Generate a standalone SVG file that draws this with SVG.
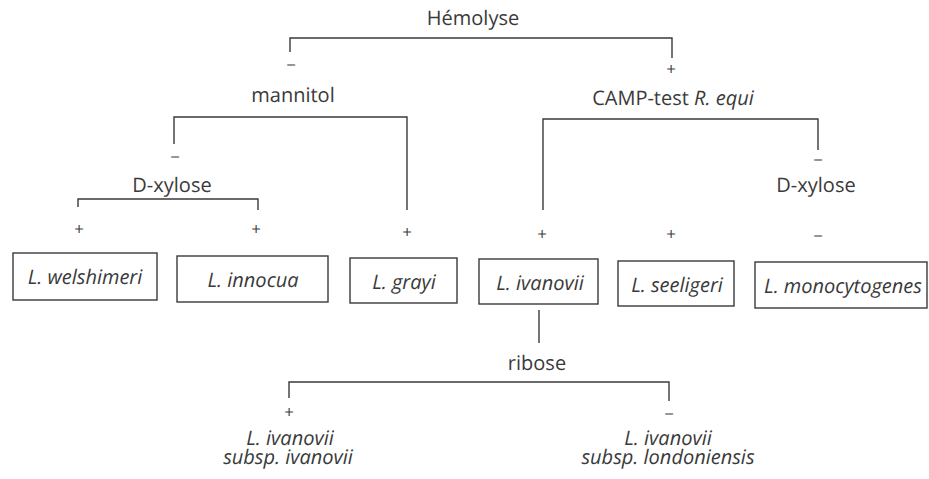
<svg xmlns="http://www.w3.org/2000/svg" width="929" height="479" viewBox="0 0 929 479">
<style>
text{font-family:"Open Sans","Noto Sans","Liberation Sans",sans-serif;font-size:20px;fill:#3a3a3a;text-anchor:middle;text-rendering:geometricPrecision}
.i{font-style:italic}
.s{font-size:17px;fill:#444}
.box{fill:none;stroke:#3a3a3a;stroke-width:1.4}
.c{fill:none;stroke:#3a3a3a;stroke-width:1.4}
</style>
<rect width="929" height="479" fill="#ffffff"/>
<g id="connectors">
<path class="c" d="M290,52V38H672V58"/>
<path class="c" d="M174,144V117H407V210"/>
<path class="c" d="M78,207V199H258V210"/>
<path class="c" d="M543,210V119H818V150"/>
<path class="c" d="M539,310V343"/>
<path class="c" d="M289,398V382H669V401"/>
</g>
<g id="hemolyse"><text x="473" y="25">Hémolyse</text></g>
<g id="sign-hem-neg"><text class="s" x="291" y="71">−</text></g>
<g id="sign-hem-pos"><text class="s" x="671" y="75">+</text></g>
<g id="mannitol"><text x="293" y="102">mannitol</text></g>
<g id="camp"><text x="673" y="105">CAMP-test <tspan class="i">R. equi</tspan></text></g>
<g id="sign-man-neg"><text class="s" x="175" y="163">−</text></g>
<g id="dxylose-left"><text x="172" y="192">D-xylose</text></g>
<g id="sign-camp-neg"><text class="s" x="818" y="166">−</text></g>
<g id="dxylose-right"><text x="816" y="192">D-xylose</text></g>
<g id="sign-1"><text class="s" x="79" y="235">+</text></g>
<g id="sign-2"><text class="s" x="256" y="235">+</text></g>
<g id="sign-3"><text class="s" x="407" y="238">+</text></g>
<g id="sign-4"><text class="s" x="542" y="240">+</text></g>
<g id="sign-5"><text class="s" x="671" y="240">+</text></g>
<g id="sign-6"><text class="s" x="818" y="242">−</text></g>
<g id="welshimeri"><rect class="box" x="13" y="253" width="144" height="47"/><text class="i" x="85" y="284">L. welshimeri</text></g>
<g id="innocua"><rect class="box" x="177" y="256" width="151" height="46"/><text class="i" x="253" y="287">L. innocua</text></g>
<g id="grayi"><rect class="box" x="350" y="258" width="107" height="45"/><text class="i" x="404" y="289">L. grayi</text></g>
<g id="ivanovii"><rect class="box" x="479" y="259" width="119" height="45"/><text class="i" x="540" y="290">L. ivanovii</text></g>
<g id="seeligeri"><rect class="box" x="618" y="261" width="116" height="45"/><text class="i" x="677" y="292">L. seeligeri</text></g>
<g id="monocytogenes"><rect class="box" x="755" y="262" width="172" height="46"/><text class="i" x="843" y="293">L. monocytogenes</text></g>
<g id="ribose"><text x="537" y="370">ribose</text></g>
<g id="sign-rib-pos"><text class="s" x="289" y="418">+</text></g>
<g id="sign-rib-neg"><text class="s" x="669" y="420">−</text></g>
<g id="subsp-ivanovii"><text class="i" x="290" y="445">L. ivanovii<tspan x="288" dy="19">subsp. ivanovii</tspan></text></g>
<g id="subsp-londoniensis"><text class="i" x="668" y="445">L. ivanovii<tspan x="668" dy="19">subsp. londoniensis</tspan></text></g>
</svg>
